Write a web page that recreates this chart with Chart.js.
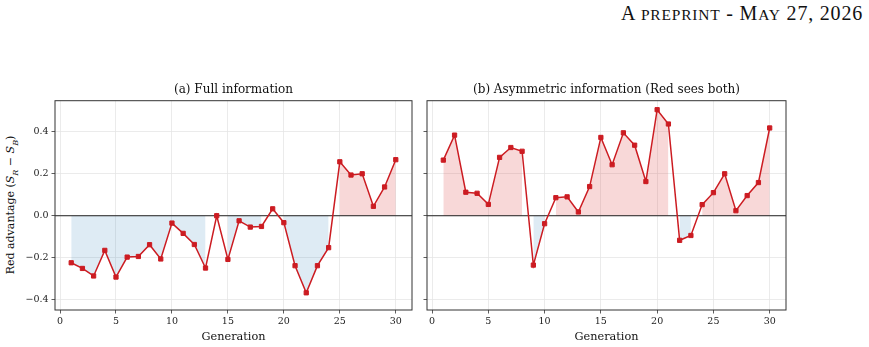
<!DOCTYPE html>
<html>
<head>
<meta charset="utf-8">
<script src="https://cdn.jsdelivr.net/npm/chart.js@4.4.1/dist/chart.umd.min.js"></script>
<style>
    body { margin: 0; background: #fff; width: 869px; height: 347px; position: relative; overflow: hidden; }
    canvas { position: absolute; top: 80px; }
    #chartA { left: 0; }
    #chartB { left: 420px; }
    .header {
        position: absolute; top: 3px; right: 6px; line-height: 20px; white-space: nowrap;
        font-family: "Liberation Serif", serif; font-size: 20px; letter-spacing: 0.8px; color: #111;
    }
    .header .sc { font-size: 15.5px; }
    .ylabel {
        position: absolute; left: 12px; top: 205px; white-space: nowrap;
        transform: translate(-50%, -50%) rotate(-90deg);
        font-family: "DejaVu Serif", serif; font-size: 11px; color: #111;
    }
    .ylabel sub { font-size: 8px; }
</style>
</head>
<body>
<div class="header">A <span class="sc">PREPRINT</span> - M<span class="sc">AY</span> 27, 2026</div>
<div class="ylabel">Red advantage (<i>S</i><sub><i>R</i></sub> − <i>S</i><sub><i>B</i></sub>)</div>
<canvas id="chartA" width="420" height="267"></canvas>
<canvas id="chartB" width="376" height="267"></canvas>
<script>
const generations = [1, 2, 3, 4, 5, 6, 7, 8, 9, 10, 11, 12, 13, 14, 15,
    16, 17, 18, 19, 20, 21, 22, 23, 24, 25, 26, 27, 28, 29, 30];
const fullInfo = [-0.224, -0.251, -0.287, -0.165, -0.292, -0.197, -0.194, -0.138, -0.206, -0.035,
    -0.084, -0.137, -0.249, 0.0, -0.208, -0.024, -0.054, -0.051, 0.033, -0.033,
    -0.238, -0.367, -0.238, -0.152, 0.257, 0.194, 0.2, 0.045, 0.137, 0.267];
const asymInfo = [0.265, 0.384, 0.112, 0.107, 0.054, 0.278, 0.325, 0.307, -0.235, -0.038,
    0.086, 0.09, 0.018, 0.139, 0.373, 0.243, 0.395, 0.336, 0.163, 0.505,
    0.437, -0.117, -0.094, 0.053, 0.11, 0.2, 0.024, 0.096, 0.158, 0.418];
const xTicks = [0, 5, 10, 15, 20, 25, 30];
const yTicks = [-0.4, -0.2, 0.0, 0.2, 0.4];

const SERIF = "'DejaVu Serif', serif";
const LINE_RED = '#cc1c22';

function points(values, keep) {
    return generations.map((g, i) => ({ x: g, y: keep(values[i]) ? values[i] : null }));
}

// panel title, frame and zero line
const framePlugin = {
    id: 'frame',
    beforeDatasetDraw(chart, args) {
        if (args.index !== 0) return;
        const { ctx, chartArea } = chart;
        const y0 = chart.scales.y.getPixelForValue(0);
        ctx.save();
        ctx.strokeStyle = '#222';
        ctx.lineWidth = 1;
        ctx.beginPath();
        ctx.moveTo(chartArea.left, y0);
        ctx.lineTo(chartArea.right, y0);
        ctx.stroke();
        ctx.restore();
    },
    afterDraw(chart, args, opts) {
        const { ctx, chartArea } = chart;
        ctx.save();
        ctx.strokeStyle = '#333';
        ctx.lineWidth = 1;
        ctx.strokeRect(chartArea.left, chartArea.top, chartArea.right - chartArea.left, chartArea.bottom - chartArea.top);
        ctx.fillStyle = '#111';
        ctx.font = '12px ' + SERIF;
        ctx.textAlign = 'center';
        ctx.textBaseline = 'middle';
        ctx.fillText(opts.text, (chartArea.left + chartArea.right) / 2, chartArea.top - 10.5);
        ctx.restore();
    }
};

function makeChart(id, title, values, showYLabels, yWidth, padRight) {
    return new Chart(document.getElementById(id), {
        type: 'line',
        data: {
            datasets: [
                {
                    data: points(values, () => true),
                    borderColor: LINE_RED,
                    backgroundColor: LINE_RED,
                    borderWidth: 1.5,
                    pointStyle: 'rect',
                    pointRadius: 3,
                    pointBorderWidth: 1,
                    fill: false
                },
                {
                    data: points(values, v => v > 0),
                    borderWidth: 0,
                    pointRadius: 0,
                    backgroundColor: 'rgba(214, 39, 40, 0.18)',
                    fill: { value: 0 },
                    spanGaps: false
                },
                {
                    data: points(values, v => v < 0),
                    borderWidth: 0,
                    pointRadius: 0,
                    backgroundColor: 'rgba(31, 119, 180, 0.15)',
                    fill: { value: 0 },
                    spanGaps: false
                }
            ]
        },
        options: {
            responsive: false,
            animation: false,
            layout: { padding: { left: 0, right: padRight, top: 20.7, bottom: 0 } },
            plugins: {
                legend: { display: false },
                tooltip: { enabled: false },
                title: { display: false },
                frame: { text: title }
            },
            scales: {
                x: {
                    type: 'linear',
                    min: -0.45,
                    max: 31.45,
                    afterBuildTicks: s => { s.ticks = xTicks.map(v => ({ value: v })); },
                    afterFit: s => { s.height = 37; },
                    border: { display: false },
                    grid: { color: '#e6e6e6', lineWidth: 0.8, tickColor: '#333', tickLength: 3.5 },
                    ticks: { color: '#222', font: { family: SERIF, size: 9.5 }, padding: 2, maxRotation: 0 },
                    title: {
                        display: true,
                        text: 'Generation',
                        color: '#111',
                        font: { family: SERIF, size: 11.3, lineHeight: 1.2 },
                        padding: { top: 0, bottom: 3.2 }
                    }
                },
                y: {
                    type: 'linear',
                    min: -0.449,
                    max: 0.548,
                    afterBuildTicks: s => { s.ticks = yTicks.map(v => ({ value: v })); },
                    afterFit: s => { s.width = yWidth; },
                    border: { display: false },
                    grid: { color: '#e6e6e6', lineWidth: 0.8, tickColor: '#333', tickLength: 3.5 },
                    ticks: {
                        color: '#222',
                        font: { family: SERIF, size: 9.5 },
                        padding: 3,
                        callback: v => showYLabels ? (v < 0 ? '\u2212' + Math.abs(v).toFixed(1) : v.toFixed(1)) : ''
                    }
                }
            }
        },
        plugins: [framePlugin]
    });
}

makeChart('chartA', '(a) Full information', fullInfo, true, 55, 8);
makeChart('chartB', '(b) Asymmetric information (Red sees both)', asymInfo, false, 7, 10);
</script>
</body>
</html>
